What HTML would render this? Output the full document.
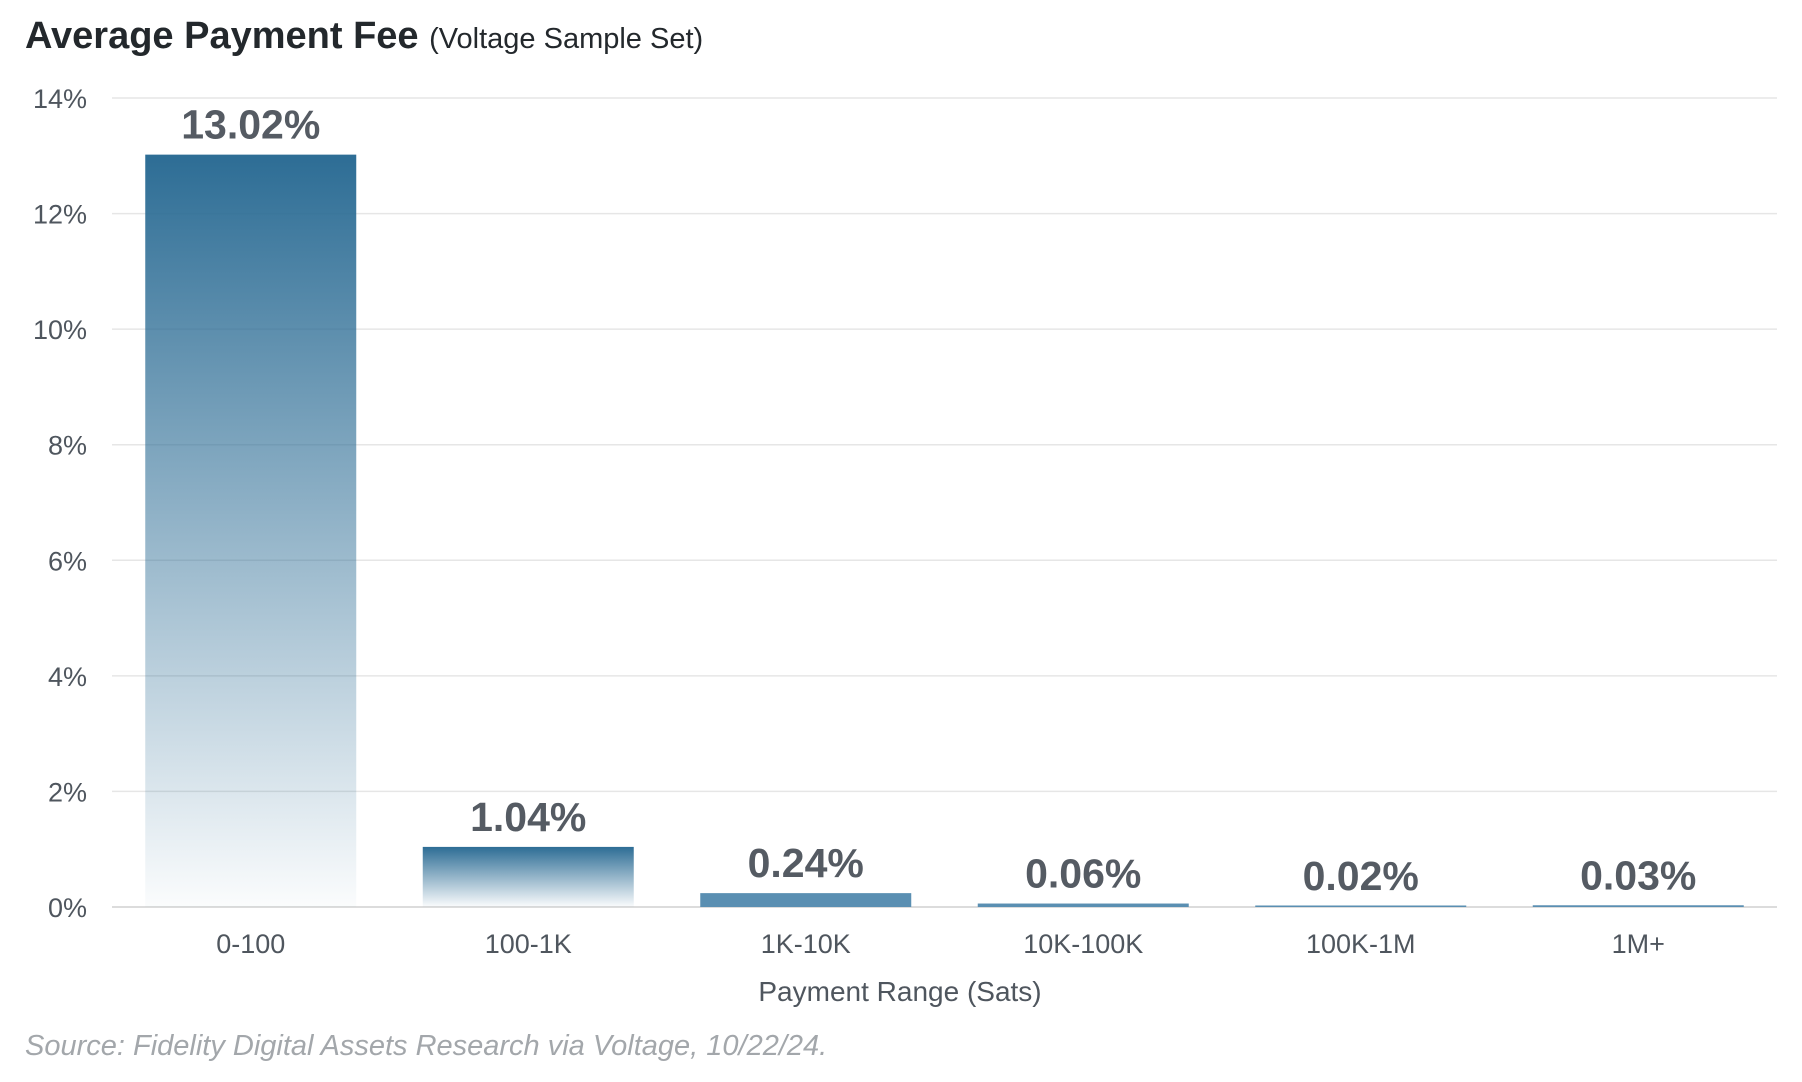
<!DOCTYPE html>
<html><head><meta charset="utf-8"><style>
html,body{margin:0;padding:0;background:#fff;width:1802px;height:1082px;overflow:hidden}
svg{display:block;font-family:"Liberation Sans",sans-serif}
</style></head><body>
<svg id="chart" width="1802" height="1082">
<defs><linearGradient id="g" x1="0" y1="0" x2="0" y2="1"><stop offset="0" stop-color="#2d6d95"/><stop offset="1" stop-color="#2d6d95" stop-opacity="0.02"/></linearGradient></defs>
<text x="25" y="48" font-size="38" font-weight="bold" fill="#23282c">Average Payment Fee <tspan font-size="29" font-weight="normal">(Voltage Sample Set)</tspan></text>
<g id="grid"></g><g id="bars"></g>
<text x="900" y="1001" text-anchor="middle" font-size="28" fill="#4f565e">Payment Range (Sats)</text>
<text x="25" y="1055" font-size="29" font-style="italic" fill="#a3a7ab">Source: Fidelity Digital Assets Research via Voltage, 10/22/24.</text>
</svg>
<script>
const categories=["0-100","100-1K","1K-10K","10K-100K","100K-1M","1M+"];
const values=[13.02,1.04,0.24,0.06,0.02,0.03];
const valueLabels=["13.02%","1.04%","0.24%","0.06%","0.02%","0.03%"];
const yTicks=[0,2,4,6,8,10,12,14];
const NS="http://www.w3.org/2000/svg";
const x0=112,x1=1777,yTop=98,yBot=907,yMax=14;
const y=v=>yBot-(yBot-yTop)*v/yMax;
const band=(x1-x0)/categories.length,bw=211;
const grid=document.getElementById('grid'),bars=document.getElementById('bars');
function mk(t,a,p){const e=document.createElementNS(NS,t);for(const k in a)e.setAttribute(k,a[k]);p.appendChild(e);return e;}
yTicks.forEach(t=>{
 const l=mk('line',{x1:x0,x2:x1,y1:y(t),y2:y(t),stroke:t===0?'#dcdcdc':'#e6e6e6','stroke-width':t===0?2:1.5},grid);
 
 
 const tx=mk('text',{x:87,y:y(t)+10,'text-anchor':'end','font-size':27,fill:'#4f565e'},grid);
 tx.textContent=t+'%';
 
 
});
categories.forEach((c,i)=>{
 const cx=x0+band*(i+0.5),top=y(values[i]),h=Math.max(yBot-top,1.5);
 const r=mk('rect',{x:cx-bw/2,y:yBot-h,width:bw,height:h,fill:values[i]<0.5?'#5a8fb2':'url(#g)'},bars);
 
 
 const v=mk('text',{x:cx,y:top-16,'text-anchor':'middle','font-size':41,'font-weight':'bold',fill:'#555b63'},bars);
 v.textContent=valueLabels[i];
 
 
 const t=mk('text',{x:cx,y:953,'text-anchor':'middle','font-size':27,fill:'#4f565e'},bars);
 t.textContent=c;
 
 
});
</script>
</body></html>
